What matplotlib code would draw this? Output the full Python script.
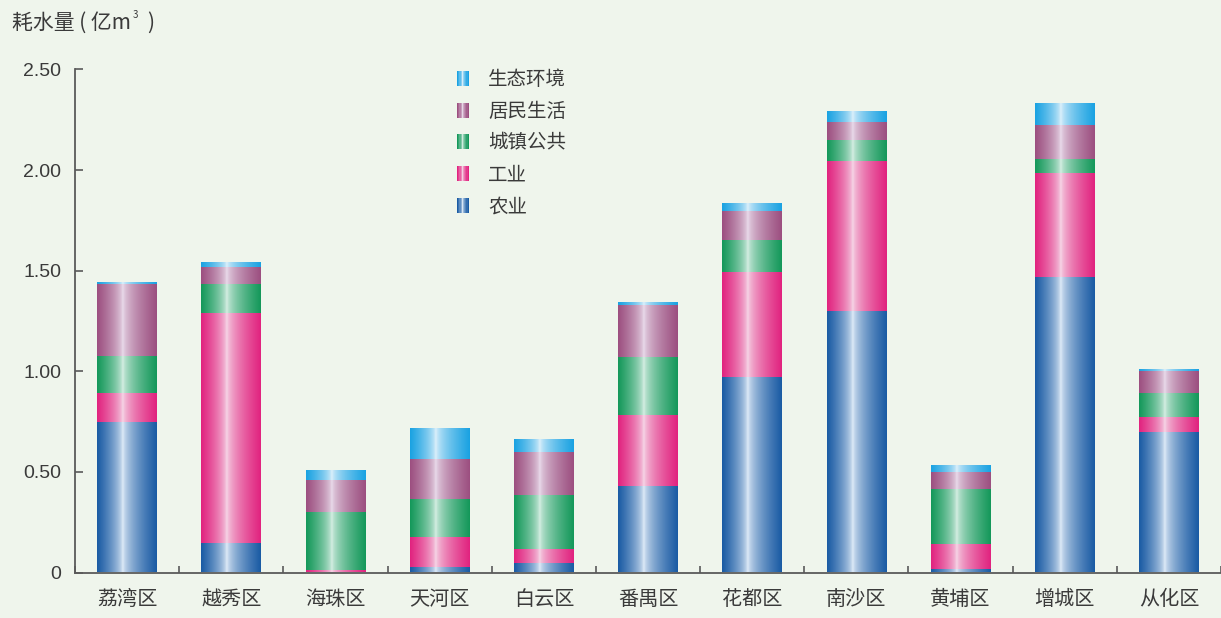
import numpy as np
import matplotlib
matplotlib.use("Agg")
import matplotlib.pyplot as plt
from matplotlib.colors import to_rgb
from matplotlib.patches import Rectangle
from matplotlib.legend_handler import HandlerBase

plt.rcParams['font.family'] = ['Noto Sans CJK SC', 'DejaVu Sans']

# Water consumption by district (100 million m³)
districts = ['荔湾区', '越秀区', '海珠区', '天河区', '白云区', '番禺区',
             '花都区', '南沙区', '黄埔区', '增城区', '从化区']
agriculture = [0.750, 0.148, 0.000, 0.026, 0.049, 0.430, 0.972, 1.300, 0.015, 1.470, 0.700]
industry    = [0.143, 1.143, 0.012, 0.152, 0.068, 0.354, 0.523, 0.746, 0.126, 0.518, 0.075]
urban_public = [0.185, 0.143, 0.290, 0.189, 0.268, 0.285, 0.158, 0.104, 0.272, 0.068, 0.116]
residential = [0.355, 0.086, 0.158, 0.199, 0.215, 0.260, 0.146, 0.088, 0.087, 0.169, 0.112]
ecological  = [0.008, 0.020, 0.046, 0.153, 0.060, 0.011, 0.037, 0.051, 0.032, 0.107, 0.007]

series_names = ['农业', '工业', '城镇公共', '居民生活', '生态环境']
series_values = [agriculture, industry, urban_public, residential, ecological]
# (edge colour, highlight colour) for the cylinder shading of each series
series_colors = [('#1a5ba4', '#e6f0fa'),
                 ('#e1237f', '#f6dcea'),
                 ('#14985a', '#dcf1e8'),
                 ('#9c4f80', '#ece0ee'),
                 ('#1aa2e2', '#e4f3fc')]

yticks = [0, 0.5, 1.0, 1.5, 2.0, 2.5]
ytick_labels = ['0', '0.50', '1.00', '1.50', '2.00', '2.50']

BG = '#eff5ec'
TXT = '#3a3a3a'
AXC = '#5a5a5a'


def cylinder_gradient(edge, light, n=96, center=0.43):
    u = np.linspace(0, 1, n)
    d = np.where(u < center, (center - u) / center, (u - center) / (1 - center))
    w = np.clip(d, 0, 1) ** 0.6
    e = np.array(to_rgb(edge))
    l = np.array(to_rgb(light))
    row = l[None, :] * (1 - w[:, None]) + e[None, :] * w[:, None]
    return row[None, :, :]


class GradientHandler(HandlerBase):
    def __init__(self, edge, light, **kw):
        super().__init__(**kw)
        self.edge = edge
        self.light = light

    def create_artists(self, legend, orig_handle, xdescent, ydescent,
                       width, height, fontsize, trans):
        grad = cylinder_gradient(self.edge, self.light, n=10, center=0.45)[0]
        n = len(grad)
        h = height * 1.1
        y0 = -ydescent + (height - h) / 2
        arts = []
        for i, c in enumerate(grad):
            r = Rectangle((-xdescent + width * i / n, y0), width / n + 0.3, h,
                          facecolor=c, edgecolor='none', transform=trans)
            arts.append(r)
        return arts


fig = plt.figure(figsize=(12.21, 6.18), dpi=100, facecolor=BG)
ax = fig.add_axes([75 / 1221, 45.5 / 618, 1 - 75 / 1221, (572.5 - 69.5) / 618])
ax.set_facecolor(BG)

x = np.arange(len(districts))
bar_w = 0.572
bottom = np.zeros(len(districts))
handles = []
for name, vals, (edge, light) in zip(series_names, series_values, series_colors):
    bars = ax.bar(x, vals, bar_w, bottom=bottom, facecolor='none',
                  edgecolor='none', label=name, zorder=2)
    img = cylinder_gradient(edge, light)
    for p in bars.patches:
        if p.get_height() <= 0:
            continue
        x0, y0 = p.get_x(), p.get_y()
        ax.imshow(img, extent=[x0, x0 + p.get_width(), y0, y0 + p.get_height()],
                  aspect='auto', interpolation='bilinear', zorder=2)
    handles.append(bars)
    bottom += np.array(vals)

ax.set_xlim(-0.5, 10.45)
ax.set_ylim(0, 2.5)

for s in ['top', 'right']:
    ax.spines[s].set_visible(False)
for s in ['left', 'bottom']:
    ax.spines[s].set_color(AXC)
    ax.spines[s].set_linewidth(1.3)

ax.set_yticks(yticks)
ax.set_yticklabels(ytick_labels, family='Liberation Sans', fontsize=14, color=TXT)
ax.tick_params(axis='y', direction='in', length=6, width=1.2, color=AXC, pad=10)

ax.set_xticks(x)
ax.set_xticklabels(districts, fontsize=14.5, color=TXT)
ax.tick_params(axis='x', which='major', length=0, pad=12)
ax.set_xticks(np.arange(-0.5, len(districts), 1.0), minor=True)
ax.tick_params(axis='x', which='minor', direction='in', length=5, width=1.2, color=AXC)

# Axis title with a small superscript on the unit
t1 = fig.text(12 / 1221, 1 - 23 / 618, '耗水量 ( 亿m', fontsize=15, color=TXT,
              va='center', ha='left')
ax.annotate('3', xy=(1, 0.62), xycoords=t1, fontsize=7, color=TXT,
            va='bottom', ha='left', xytext=(1, 0), textcoords='offset points',
            annotation_clip=False)
ax.annotate(')', xy=(1, 0.5), xycoords=t1, fontsize=15, color=TXT,
            va='center', ha='left', xytext=(12, 0), textcoords='offset points',
            annotation_clip=False)

handler_map = {h: GradientHandler(e, l) for h, (e, l) in zip(handles, series_colors)}
leg = ax.legend(handles[::-1], series_names[::-1], handler_map=handler_map,
                loc='upper left', bbox_to_anchor=(457 / 1221, 1 - 69 / 618),
                bbox_transform=fig.transFigure, frameon=False, fontsize=14,
                handlelength=0.6, handleheight=0.7, handletextpad=1.0,
                labelspacing=0.56, borderpad=0, borderaxespad=0)
for t in leg.get_texts():
    t.set_color(TXT)

fig.savefig('out.png', dpi=100, facecolor=BG)
